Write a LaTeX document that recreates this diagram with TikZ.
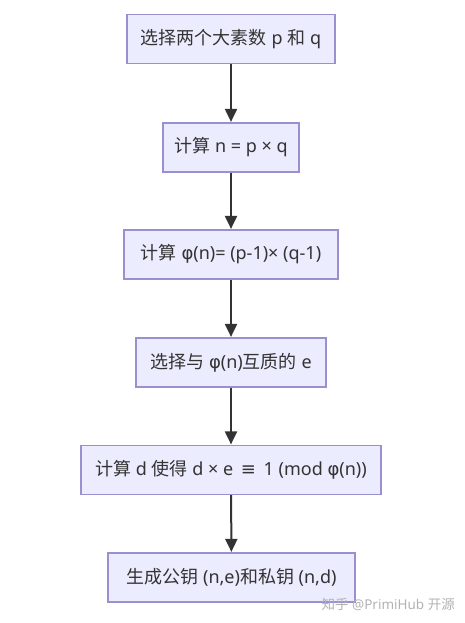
\documentclass[tikz,border=0pt]{standalone}
\usepackage{fontspec}
\setmainfont{Noto Sans}
\newfontfamily\cjk{Noto Sans CJK SC}
\newfontfamily\dv{DejaVu Sans}
\usetikzlibrary{arrows.meta}
\definecolor{boxfill}{HTML}{ECECFF}
\definecolor{boxline}{HTML}{9A8FCF}
\definecolor{arrowc}{HTML}{333333}
\newcommand{\zh}[1]{{\cjk #1}}
\newcommand{\phisym}{{\dv φ}}
\tikzset{
  stepbox/.style={draw=boxline, fill=boxfill, line width=1.2pt, minimum height=49pt,
    inner sep=0pt, font=\fontsize{18pt}{20pt}\selectfont, text=black!80},
  flow/.style={draw=arrowc, line width=2pt, -{Triangle[length=13pt,width=12pt]}, shorten >=0.5pt}
}
\begin{document}
\begin{tikzpicture}[x=1pt,y=-1pt]
\useasboundingbox (0,0) rectangle (465,623);
\node[stepbox, minimum width=208pt] (s1) at (231,39) {\zh{选择两个大素数} p \zh{和} q};
\node[stepbox, minimum width=136pt] (s2) at (231,147.5) {\zh{计算} n = p × q};
\node[stepbox, minimum width=214pt] (s3) at (231,254.5) {\zh{计算} \phisym(n)= (p-1)× (q-1)};
\node[stepbox, minimum width=190pt] (s4) at (231,362.5) {\zh{选择与} \phisym(n)\zh{互质的} e};
\node[stepbox, minimum width=300pt] (s5) at (231,470) {\zh{计算} d \zh{使得} d × e \,{\dv ≡}\, 1 (mod \phisym(n))};
\node[stepbox, minimum width=247pt] (s6) at (231.5,577.5) {\zh{生成公钥} (n,e)\zh{和私钥} (n,d)};
\draw[flow] (s1) -- (s2);
\draw[flow] (s2) -- (s3);
\draw[flow] (s3) -- (s4);
\draw[flow] (s4) -- (s5);
\draw[flow] (s5) -- (s6);
\node[text=black!30, font=\fontsize{13.5pt}{15pt}\selectfont, anchor=east, inner sep=0pt] (wm) at (455,604) {\zh{知乎} @PrimiHub \zh{开源}};
\end{tikzpicture}
\end{document}
